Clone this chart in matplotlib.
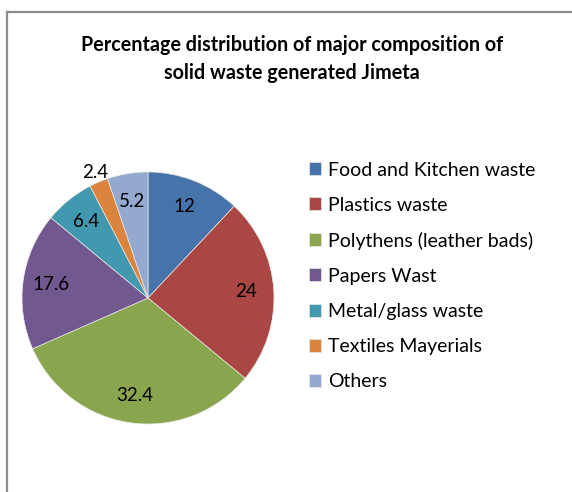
import matplotlib
matplotlib.use("Agg")
import matplotlib.pyplot as plt
from matplotlib.lines import Line2D
import numpy as np

plt.rcParams['font.family'] = ['Lato', 'DejaVu Sans']

# data
categories = ["Food and Kitchen waste", "Plastics waste", "Polythens (leather bads)",
              "Papers Wast", "Metal/glass waste", "Textiles Mayerials", "Others"]
values = [12, 24, 32.4, 17.6, 6.4, 2.4, 5.2]
value_labels = ["12", "24", "32.4", "17.6", "6.4", "2.4", "5.2"]
colours = ['#4674AA', '#AA4643', '#89A54E', '#71588F', '#4198AF', '#DB843D', '#93A9CF']

W, H = 572, 492
fig = plt.figure(figsize=(W / 100, H / 100), dpi=100)

# chart frame (cut off at the right and bottom like the screenshot)
fig.add_artist(Line2D([7 / W, 7 / W], [0, 1 - 12 / H], color='#8C8C8C', lw=1.6,
                      transform=fig.transFigure))
fig.add_artist(Line2D([7 / W, 1], [1 - 12 / H, 1 - 12 / H], color='#8C8C8C', lw=1.6,
                      transform=fig.transFigure))

fig.text(292 / W, 1 - 59 / H, "Percentage distribution of major composition of\nsolid waste generated Jimeta",
         ha='center', va='center', fontsize=14.2, fontweight='bold', linespacing=1.45)

cx, cy, r = 148, 298, 126
ax = fig.add_axes([(cx - r) / W, 1 - (cy + r) / H, 2 * r / W, 2 * r / H])
wedges, _ = ax.pie(values, colors=colours, startangle=90, counterclock=False,
                   wedgeprops=dict(edgecolor='#E8E8E8', linewidth=0.5))
ax.set_xlim(-1, 1)
ax.set_ylim(-1, 1)
ax.axis('off')

for w, lab in zip(wedges, value_labels):
    ang = np.deg2rad((w.theta1 + w.theta2) / 2)
    d = 1.08 if lab == "2.4" else 0.78
    ax.text(d * np.cos(ang), d * np.sin(ang), lab, ha='center', va='center',
            fontsize=13.5, color='black')

leg = fig.legend(wedges, categories, loc='upper left',
                 bbox_to_anchor=(291 / W, 1 - 144 / H), frameon=False,
                 fontsize=14, handlelength=0.65, handleheight=0.65,
                 handletextpad=0.35, labelspacing=0.93)

fig.savefig("out.png", dpi=100)
